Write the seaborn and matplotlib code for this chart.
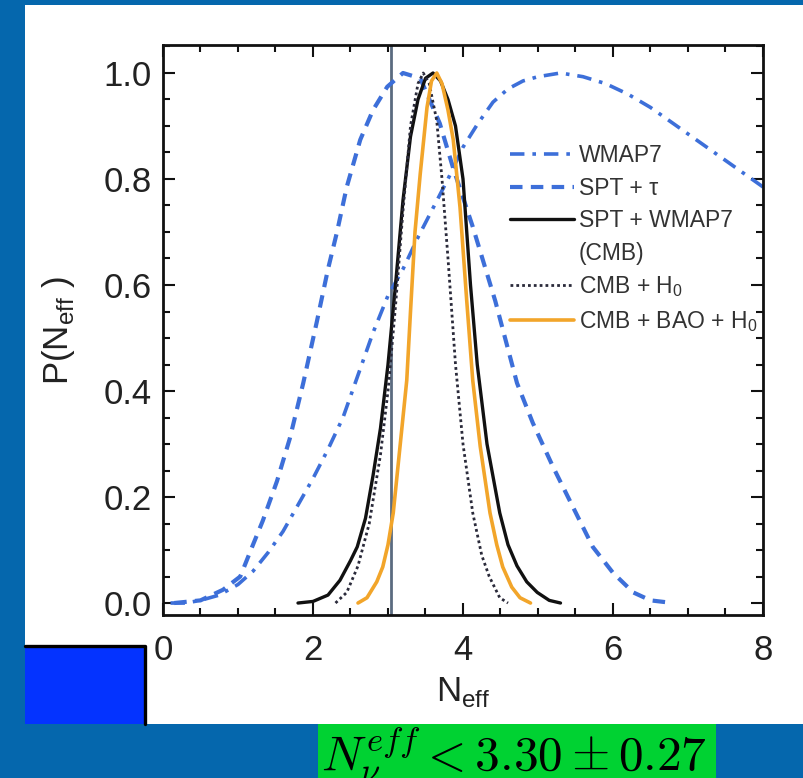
import matplotlib
matplotlib.use("Agg")
import matplotlib.pyplot as plt
import seaborn as sns
from matplotlib.patches import Rectangle
from matplotlib.lines import Line2D
from matplotlib.ticker import MultipleLocator

# ---------------- data ----------------
wmap7_x = [0.1, 0.3, 0.5, 0.75, 1.0, 1.2, 1.4, 1.6, 1.8, 2.0, 2.2, 2.4, 2.6, 2.8, 3.0,
           3.2, 3.4, 3.6, 3.8, 4.0, 4.2, 4.4, 4.6, 4.8, 5.0, 5.3, 5.6, 5.9, 6.2, 6.5,
           6.8, 7.1, 7.4, 7.7, 8.0]
wmap7_y = [0.0, 0.0, 0.005, 0.015, 0.035, 0.06, 0.095, 0.135, 0.185, 0.235, 0.29, 0.35,
           0.43, 0.51, 0.58, 0.63, 0.69, 0.745, 0.80, 0.86, 0.905, 0.945, 0.97, 0.985,
           0.993, 1.0, 0.993, 0.98, 0.96, 0.935, 0.905, 0.875, 0.845, 0.815, 0.785]

spt_tau_x = [0.15, 0.5, 0.8, 1.03, 1.2, 1.33, 1.52, 1.69, 1.87, 2.05, 2.2, 2.32, 2.45,
             2.63, 2.8, 2.99, 3.2, 3.43, 3.69, 3.87, 4.13, 4.43, 4.72, 4.93, 5.2, 5.47,
             5.73, 6.0, 6.27, 6.5, 6.8]
spt_tau_y = [0.0, 0.005, 0.025, 0.05, 0.11, 0.155, 0.23, 0.31, 0.415, 0.53, 0.63, 0.70,
             0.785, 0.874, 0.93, 0.974, 1.0, 0.99, 0.905, 0.82, 0.71, 0.57, 0.415, 0.34,
             0.257, 0.18, 0.106, 0.057, 0.02, 0.005, 0.0]

cmb_x = [1.8, 2.0, 2.2, 2.36, 2.5, 2.59, 2.7, 2.8, 2.9, 3.0, 3.1, 3.2, 3.3, 3.4, 3.5,
         3.6, 3.7, 3.8, 3.9, 4.0, 4.1, 4.19, 4.32, 4.49, 4.6, 4.72, 4.85, 4.99, 5.15, 5.3]
cmb_y = [0.0, 0.003, 0.015, 0.043, 0.08, 0.106, 0.16, 0.24, 0.33, 0.45, 0.60, 0.76,
         0.88, 0.95, 0.99, 1.0, 0.985, 0.95, 0.90, 0.80, 0.60, 0.45, 0.30, 0.17, 0.11,
         0.07, 0.04, 0.02, 0.005, 0.0]

cmb_h0_x = [2.3, 2.45, 2.6, 2.75, 2.9, 3.0, 3.1, 3.2, 3.3, 3.4, 3.47, 3.55, 3.65, 3.72,
            3.8, 3.9, 4.0, 4.13, 4.25, 4.35, 4.49, 4.6]
cmb_h0_y = [0.0, 0.02, 0.07, 0.15, 0.28, 0.40, 0.56, 0.74, 0.90, 0.98, 1.0, 0.98, 0.91,
            0.80, 0.65, 0.45, 0.30, 0.17, 0.09, 0.05, 0.01, 0.0]

cmb_bao_x = [2.6, 2.72, 2.85, 2.93, 3.0, 3.07, 3.16, 3.25, 3.3, 3.36, 3.43, 3.52, 3.58,
             3.65, 3.72, 3.8, 3.87, 3.96, 4.05, 4.13, 4.23, 4.36, 4.45, 4.53, 4.65, 4.76, 4.9]
cmb_bao_y = [0.0, 0.01, 0.04, 0.068, 0.11, 0.17, 0.295, 0.42, 0.55, 0.70, 0.81, 0.935,
             0.985, 1.0, 0.98, 0.93, 0.874, 0.747, 0.57, 0.42, 0.295, 0.17, 0.11, 0.068,
             0.03, 0.01, 0.0]

n_eff_standard = 3.046

labels = ["WMAP7", "SPT + \u03c4", "SPT + WMAP7", "CMB + H$_{\\mathregular{0}}$",
          "CMB + BAO + H$_{\\mathregular{0}}$"]
extra_label = "(CMB)"

x_ticks = [0, 2, 4, 6, 8]
x_ticklabels = ["0", "2", "4", "6", "8"]
y_ticks = [0.0, 0.2, 0.4, 0.6, 0.8, 1.0]
y_ticklabels = ["0.0", "0.2", "0.4", "0.6", "0.8", "1.0"]

result_text = r"$N_\nu^{eff} < 3.30 \pm 0.27$"

# ---------------- styling ----------------
sns.set_theme(style="white")
plt.rcParams['font.family'] = ['Liberation Sans', 'DejaVu Sans']

W, H = 804, 778
fig = plt.figure(figsize=(W / 100, H / 100), dpi=100)
BG = '#0567ad'
fig.patch.set_facecolor(BG)

# white panel
fig.add_artist(Rectangle((25 / W, 1 - 724 / H), 1 - 25 / W, (724 - 5) / H,
                         transform=fig.transFigure, facecolor='white',
                         edgecolor='none', zorder=-2))

ax = fig.add_axes([163 / W, 1 - 615 / H, 600 / W, 570 / H])
ax.set_facecolor('white')

blue = '#3d6fd9'
sns.lineplot(x=wmap7_x, y=wmap7_y, ax=ax, color=blue, lw=2.6,
             linestyle=(0, (4, 2.2, 1, 2.2)), label=labels[0])
sns.lineplot(x=spt_tau_x, y=spt_tau_y, ax=ax, color=blue, lw=3.0,
             linestyle=(0, (3, 2)), label=labels[1])
sns.lineplot(x=cmb_x, y=cmb_y, ax=ax, color='#111111', lw=2.4,
             linestyle='-', label=labels[2])
sns.lineplot(x=cmb_h0_x, y=cmb_h0_y, ax=ax, color='#2a2a3a', lw=2.0,
             linestyle=(0, (1, 1.1)), label=labels[3])
sns.lineplot(x=cmb_bao_x, y=cmb_bao_y, ax=ax, color='#f2a52a', lw=2.6,
             linestyle='-', label=labels[4])
ax.axvline(n_eff_standard, color='#5b6b80', lw=2.0, zorder=1)

ax.set_xlim(0, 8)
ax.set_ylim(-0.0226, 1.0528)
ax.set_xticks(x_ticks)
ax.set_xticklabels(x_ticklabels)
ax.set_yticks(y_ticks)
ax.set_yticklabels(y_ticklabels)
ax.xaxis.set_minor_locator(MultipleLocator(0.5))
ax.yaxis.set_minor_locator(MultipleLocator(0.05))
ax.tick_params(which='both', direction='in', top=True, right=True,
               bottom=True, left=True, color='#111111', width=1.5)
ax.tick_params(which='major', length=8.5, labelsize=25, labelcolor='#222222')
ax.tick_params(which='minor', length=5)
ax.tick_params(axis='x', which='major', pad=14)
ax.tick_params(axis='y', which='major', pad=8)
for s in ax.spines.values():
    s.set_color('#111111')
    s.set_linewidth(2.0)
    s.set_visible(True)

ax.set_xlabel("N$_{\\mathregular{eff}}$", fontsize=25, color='#222222')
ax.set_ylabel("P(N$_{\\mathregular{eff}}$ )", fontsize=25, color='#222222')
ax.xaxis.set_label_coords(0.5, -0.105)
ax.yaxis.set_label_coords(-0.143, 0.5)

# legend
handles = ax.get_lines()[:5]
hl = list(handles[:3]) + [Line2D([], [], color='none')] + list(handles[3:5])
ll = labels[:3] + [extra_label] + labels[3:]
ax.legend(hl, ll, loc='upper left', bbox_to_anchor=(510 / W, 1 - 144 / H),
          bbox_transform=fig.transFigure, frameon=False, fontsize=16.5,
          labelcolor='#333333', handlelength=2.8, handletextpad=0.2,
          labelspacing=0.42, borderpad=0, borderaxespad=0)

# blue square with black top/right edge
fig.add_artist(Rectangle((25 / W, 1 - 724 / H), 120 / W, 79 / H,
                         transform=fig.transFigure, facecolor='#0433ff',
                         edgecolor='none', zorder=3))
fig.add_artist(Line2D([25 / W, 145 / W, 145 / W], [1 - 646 / H, 1 - 646 / H, 1 - 724 / H],
                      transform=fig.transFigure, color='black', lw=2.4, zorder=4))

# green result box
fig.add_artist(Rectangle((318 / W, 0), 398 / W, 54 / H, transform=fig.transFigure,
                         facecolor='#00d232', edgecolor='none', zorder=3))
fig.text(321 / W, 1 - 770 / H, result_text, fontsize=35.5, math_fontfamily='cm',
         color='black', ha='left', va='baseline', zorder=5)

fig.savefig("out.png", dpi=100, facecolor=BG)
